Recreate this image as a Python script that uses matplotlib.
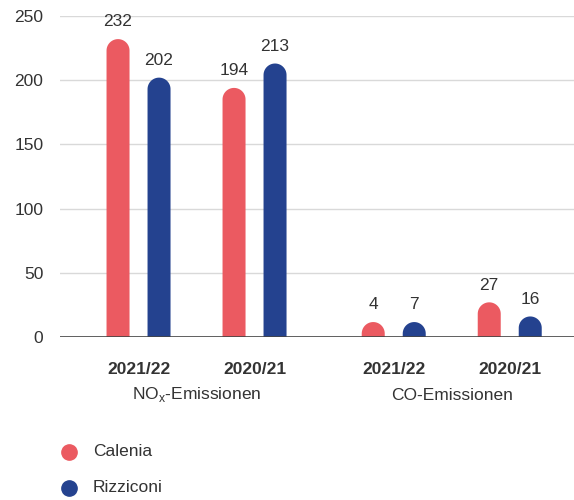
import numpy as np
import matplotlib
matplotlib.use("Agg")
import matplotlib.pyplot as plt
from matplotlib.patches import Polygon
from matplotlib.lines import Line2D

plt.rcParams['font.family'] = ['Liberation Sans', 'DejaVu Sans']
plt.rcParams['mathtext.fontset'] = 'custom'
plt.rcParams['mathtext.rm'] = 'Liberation Sans'

categories = ["2021/22", "2020/21", "2021/22", "2020/21"]
groups = ["NO$_\\mathrm{x}$-Emissionen", "CO-Emissionen"]
series_names = ["Calenia", "Rizziconi"]
calenia = [232, 194, 4, 27]
rizziconi = [202, 213, 7, 16]
yticks = [0, 50, 100, 150, 200, 250]

colors = ["#EB5A61", "#24428F"]
text_color = "#333333"
positions = [0, 1, 2.2, 3.2]

W, H = 574, 500
fig = plt.figure(figsize=(W / 100, H / 100), dpi=100)
ax_left, ax_right, ax_bottom, ax_top = 60, 574, 337, 16
ax = fig.add_axes([ax_left / W, (H - ax_bottom) / H, (ax_right - ax_left) / W, (ax_bottom - ax_top) / H])
xlim = (-0.677, 3.754)
ylim = (0, 250)
ax.set_xlim(*xlim)
ax.set_ylim(*ylim)

px_x = (ax_right - ax_left) / (xlim[1] - xlim[0])
px_y = (ax_bottom - ax_top) / (ylim[1] - ylim[0])
bw = 23 / px_x
off = 20.5 / px_x
rx = bw / 2
ry = (23 / 2) / px_y
theta = np.linspace(0, np.pi, 40)

for i, (vals, col) in enumerate(zip([calenia, rizziconi], colors)):
    for p, v in zip(positions, vals):
        xc = p + (-off if i == 0 else off)
        top = max(v, ry * 1.3)
        cy = top - ry
        arc_x = xc + rx * np.cos(theta)
        arc_y = cy + ry * np.sin(theta)
        xs = np.concatenate([[xc + rx], arc_x, [xc - rx]])
        ys = np.concatenate([[0], arc_y, [0]])
        ax.add_patch(Polygon(np.column_stack([xs, ys]), closed=True, facecolor=col,
                             edgecolor='none', zorder=3))
        ax.annotate(str(v), (xc, top), xytext=(0, 7), textcoords='offset points',
                    ha='center', va='bottom', fontsize=12.5, color=text_color)

ax.set_yticks(yticks)
ax.set_yticklabels([str(t) for t in yticks], fontsize=12.5, color=text_color)
ax.tick_params(axis='y', length=0, pad=12)
ax.set_xticks([])
for s in ax.spines.values():
    s.set_visible(False)
for t in yticks[1:]:
    ax.axhline(t, color="#d9d9d9", lw=1, zorder=1)
ax.axhline(0, color="#444444", lw=1.2, zorder=4)

for p, c in zip(positions, categories):
    ax.text(p, -32 / px_y, c, ha='center', va='center', fontsize=12.5, fontweight='bold', color=text_color)
for gi, g in enumerate(groups):
    gp = (positions[2 * gi] + positions[2 * gi + 1]) / 2
    ax.text(gp, -58 / px_y, g, ha='center', va='center', fontsize=12.5, color=text_color)

for j, (name, col) in enumerate(zip(series_names, colors)):
    yy = 1 - (452 + 36 * j) / H
    fig.add_artist(Line2D([69 / W], [yy], marker='o', markersize=11, color=col, linestyle='none'))
    fig.text(93 / W, yy, name, ha='left', va='center', fontsize=12.5, color=text_color)

fig.savefig("out.png", dpi=100)
